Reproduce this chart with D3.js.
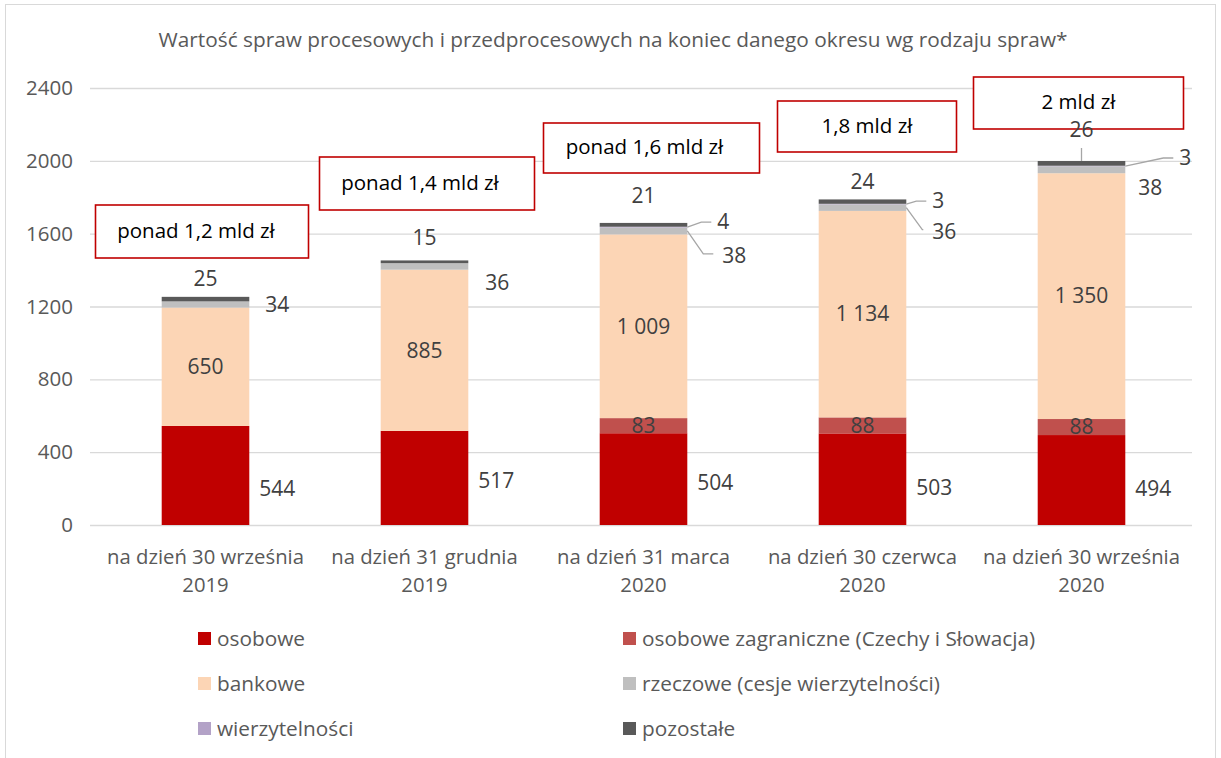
<!DOCTYPE html>
<html><head><meta charset="utf-8">
<script src="https://cdn.jsdelivr.net/npm/d3@7"></script>
<style>body{margin:0;background:#fff}svg{display:block}text{font-family:"Open Sans",sans-serif}</style>
</head><body>
<svg id="c" width="1221" height="758"></svg>
<script>
const categories = [["na dzień 30 września","2019"],["na dzień 31 grudnia","2019"],["na dzień 31 marca","2020"],["na dzień 30 czerwca","2020"],["na dzień 30 września","2020"]];
const osobowe = [544, 517, 504, 503, 494];
const zagraniczne = [0, 0, 83, 88, 88];
const bankowe = [650, 885, 1009, 1134, 1350];
const rzeczowe = [34, 36, 38, 36, 38];
const wierzytelnosci = [0, 0, 4, 3, 3];
const pozostale = [25, 15, 21, 24, 26];
const yTicks = [0, 400, 800, 1200, 1600, 2000, 2400];
const totalsText = ["ponad 1,2 mld zł","ponad 1,4 mld zł","ponad 1,6 mld zł","1,8 mld zł","2 mld zł"];
const seriesNames = ["osobowe","osobowe zagraniczne (Czechy i Słowacja)","bankowe","rzeczowe (cesje wierzytelności)","wierzytelności","pozostałe"];
const colors = ["#C00000","#C0504D","#FCD5B5","#BFBFBF","#B3A2C7","#595959"];

const series = [osobowe, zagraniczne, bankowe, rzeczowe, wierzytelnosci, pozostale];
const svg = d3.select("#c");
svg.append("rect").attr("x",5.5).attr("y",4.5).attr("width",1210).attr("height",800).attr("fill","none").attr("stroke","#d9d9d9");

const x = d3.scaleBand().domain(d3.range(categories.length)).range([96,1191]).paddingInner(0.6).paddingOuter(0.3);
const y = d3.scaleLinear().domain([0,2400]).range([525,88]);

svg.append("text").attr("x",613).attr("y",47).attr("text-anchor","middle").attr("font-size",20.8).attr("fill","#595959")
  .text("Wartość spraw procesowych i przedprocesowych na koniec danego okresu wg rodzaju spraw*");

const yAxis = svg.append("g").attr("transform","translate(90,0)")
  .call(d3.axisLeft(y).tickValues(yTicks).tickSize(-1102).tickPadding(17).tickFormat(d3.format("d")));
yAxis.select(".domain").remove();
yAxis.selectAll(".tick line").attr("stroke","#d9d9d9").attr("stroke-width",1.3);
yAxis.selectAll(".tick text").attr("font-size",20.5).attr("fill","#595959");

const rows = categories.map((c,i)=>{const o={i}; series.forEach((s,k)=>o["s"+k]=s[i]); return o;});
const stack = d3.stack().keys(series.map((s,k)=>"s"+k))(rows);
stack.forEach((layer,k)=>{
  svg.append("g").selectAll("rect").data(layer).join("rect")
    .attr("x",d=>x(d.data.i)).attr("width",x.bandwidth())
    .attr("y",d=>y(d[1])).attr("height",d=>Math.max(0,y(d[0])-y(d[1])))
    .attr("fill",colors[k]);
});

categories.forEach((c,i)=>{
  const t = svg.append("text").attr("x",x(i)+x.bandwidth()/2).attr("text-anchor","middle").attr("font-size",20.3).attr("fill","#595959");
  t.append("tspan").attr("x",x(i)+x.bandwidth()/2).attr("y",564).text(c[0]);
  t.append("tspan").attr("x",x(i)+x.bandwidth()/2).attr("y",592).text(c[1]);
});

// total boxes (drawn before labels)
const boxW = [213, 215, 216, 179, 210], boxH = [53, 53, 50, 51, 52];
const boxDx = [-110, -105, -100, -85, -108], boxTop = [205, 157, 123, 101, 77];
const boxTextDx = [-6, -7, -7, 0, 0];
categories.forEach((c,i)=>{
  const cx = x(i)+x.bandwidth()/2;
  const bx = cx+boxDx[i];
  svg.append("rect").attr("x",bx).attr("y",boxTop[i]).attr("width",boxW[i]).attr("height",boxH[i])
    .attr("fill","#fff").attr("stroke","#C00000").attr("stroke-width",1.6);
  svg.append("text").attr("x",bx+boxW[i]/2+boxTextDx[i]).attr("y",boxTop[i]+boxH[i]/2-1).attr("dy","0.35em").attr("text-anchor","middle")
    .attr("font-size",20.5).attr("fill","#000").text(totalsText[i]);
});

const fmt = v => d3.format(",")(v).replace(/,/g," ");
const lab = (xx,yy,txt,anchor)=>svg.append("text").attr("x",xx).attr("y",yy).attr("dy","0.35em").attr("text-anchor",anchor||"start")
  .attr("font-size",21).attr("fill","#404040").text(txt);
const leader = pts => svg.append("path").attr("d",d3.line()(pts)).attr("fill","none").attr("stroke","#a6a6a6").attr("stroke-width",1.3);

const osDy = [13, 3, 4, 8, 9];
const rzDx = [16, 17, 35, 26, 13], rzDy = [0, 16, 25, 24, 18], rzLeader = [false,false,true,true,false];
const wiDx = [0, 0, 30, 26, 54], wiDy = [0, 0, -5, -3, -8];
const poDy = [-18, -23, -27, -18, -31], poLeader = [false,false,false,false,true];

categories.forEach((c,i)=>{
  const L = x(i), R = x(i)+x.bandwidth(), cx = L + x.bandwidth()/2;
  const seg = k => stack[k][i];
  const mid = k => y((seg(k)[0]+seg(k)[1])/2);
  lab(R+10, mid(0)+osDy[i], fmt(osobowe[i]));
  if (zagraniczne[i]>0) lab(cx, mid(1), fmt(zagraniczne[i]), "middle");
  lab(cx, mid(2), fmt(bankowe[i]), "middle");
  const rx = R+rzDx[i], ry = mid(3)+rzDy[i];
  if (rzLeader[i]) leader([[R, mid(3)],[R+16, ry-2],[rx-9, ry-2]]);
  lab(rx, ry, fmt(rzeczowe[i]));
  if (wierzytelnosci[i]>0){
    const wx = R+wiDx[i], wy = mid(4)+wiDy[i];
    leader([[R, mid(4)],[wx-16, wy],[wx-6, wy]]);
    lab(wx, wy, fmt(wierzytelnosci[i]));
  }
  const top = y(seg(5)[1]);
  if (poLeader[i]) leader([[cx, top],[cx, top-13]]);
  lab(cx, top+poDy[i], fmt(pozostale[i]), "middle");
});

seriesNames.forEach((n,k)=>{
  const col = k%2, row = Math.floor(k/2);
  const lx = col===0 ? 198 : 623, ly = 639 + row*45;
  svg.append("rect").attr("x",lx).attr("y",ly-7).attr("width",13).attr("height",13).attr("fill",colors[k]);
  svg.append("text").attr("x",lx+19).attr("y",ly).attr("dy","0.35em").attr("font-size",20.8).attr("fill","#595959").text(n);
});
</script>
</body></html>
